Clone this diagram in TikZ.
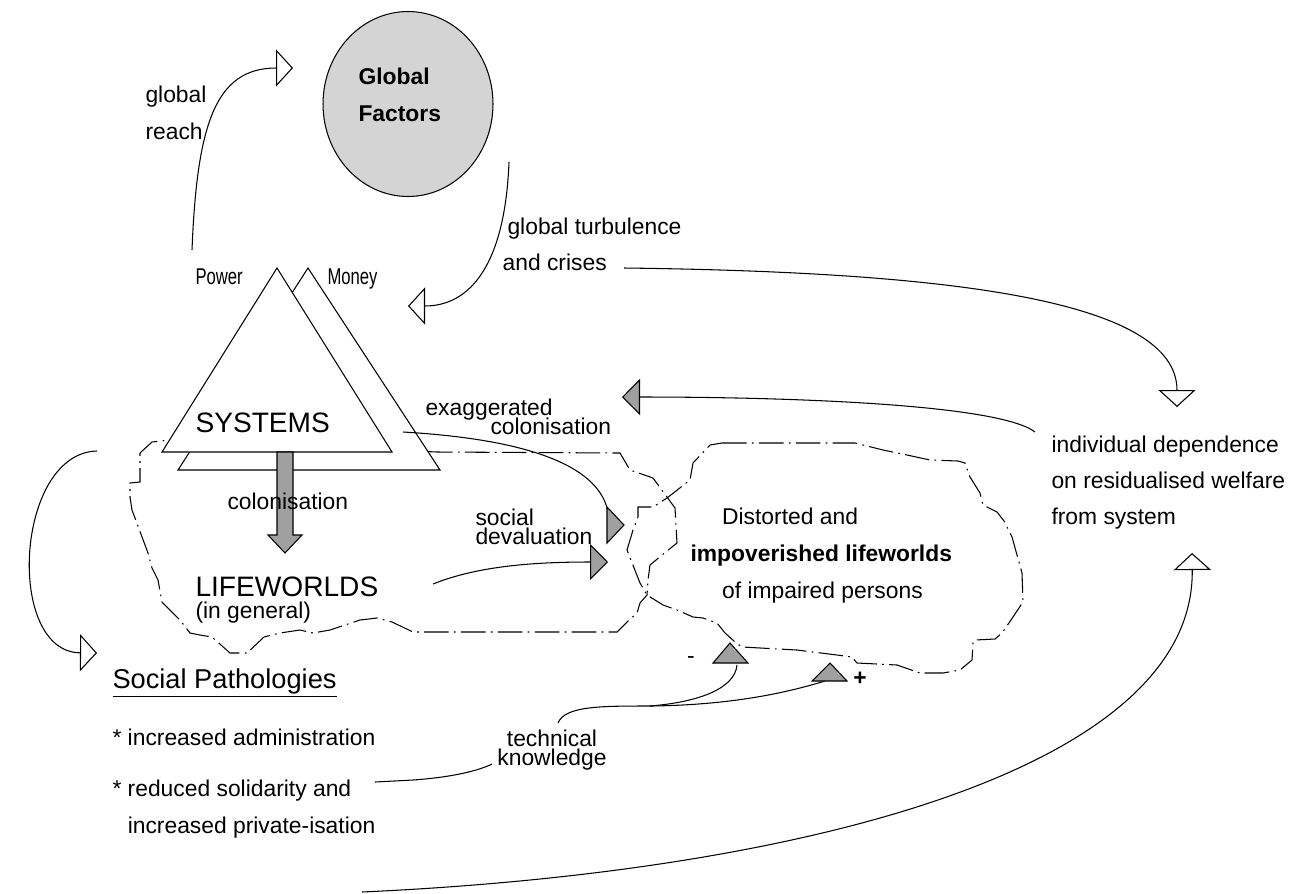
\documentclass[tikz,border=0pt]{standalone}
\usepackage{fontspec}
\setmainfont{Liberation Sans}
\usepackage{graphicx}
\usetikzlibrary{arrows.meta}
\usetikzlibrary{shapes.geometric}
\definecolor{valvegray}{RGB}{160,160,160}
\definecolor{globegray}{RGB}{212,212,212}

\begin{document}
\begin{tikzpicture}[x=0.02cm,y=-0.02cm,line width=0.6pt,
    lbl/.style={font=\fontsize{13}{20.5}\selectfont,inner sep=0pt,align=left,anchor=north west},
    tight/.style={font=\fontsize{13}{11}\selectfont,inner sep=0pt},
    big/.style={font=\fontsize{16}{19}\selectfont,inner sep=0pt,anchor=north west},
    cloud/.style={dash pattern=on 14pt off 3pt on 1pt off 3pt},
    openhead/.style={-{Triangle[open,length=0.34cm,width=0.74cm]}},
    grayhead/.style={-{Triangle[fill=valvegray,length=0.36cm,width=0.72cm]}},
    valve/.style={draw,fill=valvegray}]
    \useasboundingbox (0,0) rectangle (1297,893);

    % the two lifeworld clouds
    \draw[cloud] (170,440) -- (300,446) -- (437,452) -- (620,453) -- (630,470) -- (653,478)
        -- (667,497) -- (675,508) -- (677,543) -- (662,555) -- (650,565) -- (648,580) -- (647,595)
        -- (640,603) -- (637,613) -- (627,622) -- (617,632) -- (413,632) -- (392,622) -- (377,618)
        -- (360,620) -- (330,630) -- (313,633) -- (300,630) -- (280,633) -- (264,637) -- (247,653)
        -- (230,653) -- (212,637) -- (200,635) -- (190,633) -- (180,620) -- (170,610) -- (162,602)
        -- (158,580) -- (152,568) -- (148,553) -- (132,510) -- (130,497) -- (130,483) -- (140,482)
        -- (140,453) -- (152,442) -- cycle;
    \draw[cloud] (722,443) -- (855,443) -- (883,450) -- (907,455) -- (930,460) -- (958,461)
        -- (965,463) -- (970,477) -- (980,493) -- (983,505) -- (997,512) -- (1004,521) -- (1012,537)
        -- (1022,573) -- (1023,602) -- (1013,617) -- (1002,633) -- (995,639) -- (975,640) -- (973,643)
        -- (972,660) -- (960,670) -- (943,673) -- (920,673) -- (897,665) -- (857,663) -- (852,657)
        -- (837,655) -- (797,650) -- (742,647) -- (735,642) -- (725,633) -- (717,623) -- (703,618)
        -- (693,617) -- (677,610) -- (663,605) -- (647,595) -- (640,583) -- (627,550) -- (633,530)
        -- (638,517) -- (638,507) -- (653,507) -- (667,498) -- (690,480) -- (693,463) -- (710,445) -- cycle;

    % power and money
    \filldraw[fill=white] (308,268) -- (440,470) -- (178,470) -- cycle;
    \filldraw[fill=white] (277,268) -- (392,452) -- (162,452) -- cycle;
    \filldraw[fill=valvegray] (277,452) -- (277,535) -- (268,535) -- (285,553) -- (302,535)
        -- (293,535) -- (293,452) -- cycle;

    \node[ellipse,draw,fill=globegray,minimum width=3.4cm,minimum height=3.7cm,inner sep=0pt] (globe) at (408,104) {};
    \node[lbl,font=\fontsize{13}{21.5}\selectfont\bfseries] (globetext) at (358,67) {Global\\Factors};

    \node[lbl,font=\fontsize{13}{21.5}\selectfont] (reach) at (145,85) {global\\reach};
    \node[lbl] (turb) at (507,217) {global turbulence\\\hspace*{-2.8pt}and crises};
    \node[lbl] (power) at (195,268) {\scalebox{0.73}[1]{Power}};
    \node[lbl] (money) at (327,268) {\scalebox{0.73}[1]{Money}};
    \node[big] (systems) at (195,412) {SYSTEMS};
    \node[lbl] (colon) at (227,492) {colonisation};
    \node[big] (life) at (195,576) {LIFEWORLDS};
    \node[lbl] (general) at (195,601) {(in general)};
    \node[lbl] (exag) at (425,398) {exaggerated};
    \node[lbl] (exagcol) at (490,417) {colonisation};
    \node[tight,align=left,anchor=north west] (deval) at (475,508) {social\\devaluation};
    \node[lbl,font=\fontsize{13}{21.3}\selectfont] (distorted) at (690,507)
        {\hspace*{18pt}Distorted and\\\textbf{impoverished lifeworlds}\\\hspace*{18pt}of impaired persons};
    \node[lbl] (depend) at (1051,435) {individual dependence\\on residualised welfare\\from system};
    \node[lbl,font=\fontsize{15.5}{19}\selectfont] (patho) at (112,668) {\underline{Social Pathologies}};
    \node[lbl,font=\fontsize{13}{21}\selectfont] (bullets) at (112,728)
        {* increased administration\\[8.5pt]* reduced solidarity and\\\hphantom{* }increased private-isation};
    \node[tight,align=center,anchor=north] (techn) at (552,729) {technical\\knowledge};
    \node[lbl,anchor=center] (minus) at (691,660) {-};
    \node[lbl,anchor=center,font=\fontsize{13}{15}\selectfont\bfseries] (plus) at (860,679) {+};

    % free ends of the links
    \coordinate (reach-a) at (192,250);
    \coordinate (reach-b) at (293,68);
    \coordinate (turb-a) at (509,162);
    \coordinate (turb-b) at (408,306);
    \coordinate (crisis-a) at (624,268);
    \coordinate (depend-in) at (1177,407);
    \coordinate (depend-out) at (1035,432);
    \coordinate (exag-in) at (622,397);
    \coordinate (exag-a) at (403,432);
    \coordinate (exag-b) at (608,512);
    \coordinate (deval-a) at (433,584);
    \coordinate (deval-b) at (608,562);
    \coordinate (patho-a) at (97,451);
    \coordinate (patho-b) at (97,653);
    \coordinate (welfare-a) at (362,892);
    \coordinate (welfare-b) at (1192,553);
    \coordinate (solid-a) at (375,782);
    \coordinate (techn-a) at (492,764);
    \coordinate (techn-b) at (558,723);
    \coordinate (techn-c) at (650,706);
    \coordinate (minus-in) at (737,665);
    \coordinate (plus-in) at (825,681);

    \draw[openhead] (reach-a) .. controls (197,125) and (215,68) .. (reach-b);
    \draw[openhead] (turb-a) .. controls (505,265) and (470,306) .. (turb-b);
    \draw[openhead] (crisis-a) .. controls (950,272) and (1177,300) .. (depend-in);
    \draw[grayhead] (depend-out) .. controls (1000,405) and (800,397) .. (exag-in);
    \draw (exag-a) .. controls (540,440) and (600,470) .. (exag-b);
    \filldraw[fill=valvegray] (607,507) -- (624,525) -- (607,543) -- cycle;
    \draw[grayhead] (deval-a) .. controls (480,565) and (540,562) .. (deval-b);
    \draw[openhead] (patho-a) .. controls (15,453) and (5,652) .. (patho-b);
    \draw[openhead] (welfare-a) .. controls (800,872) and (1195,770) .. (welfare-b);
    \draw (solid-a) -- (413,780) .. controls (455,777) and (480,770) .. (techn-a);
    \draw (techn-b) .. controls (565,706) and (600,706) .. (techn-c)
        .. controls (740,705) and (795,690) .. (plus-in);
    \draw (techn-c) .. controls (700,702) and (735,688) .. (minus-in);
    \filldraw[fill=valvegray] (713,663) -- (730,643) -- (748,663) -- cycle;
    \filldraw[fill=valvegray] (812,681) -- (830,663) -- (847,681) -- cycle;
\end{tikzpicture}
\end{document}
